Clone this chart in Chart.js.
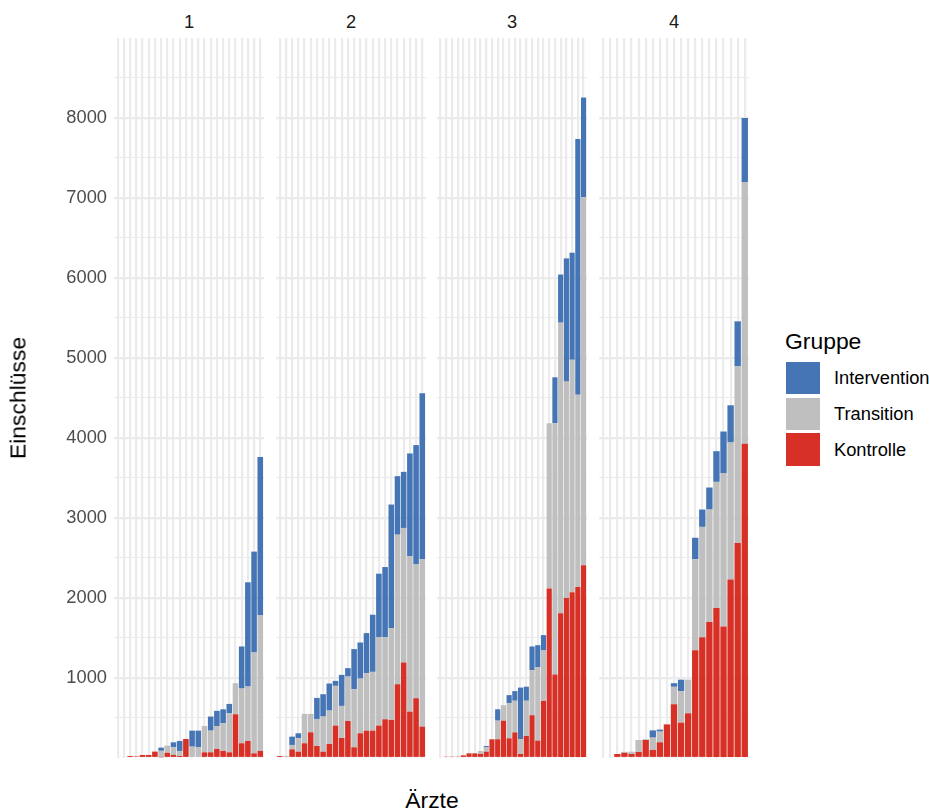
<!DOCTYPE html>
<html>
<head>
<meta charset="utf-8">
<script src="https://cdn.jsdelivr.net/npm/chart.js@4.4.1/dist/chart.umd.min.js"></script>
<style>
html,body{margin:0;padding:0;background:#fff;width:929px;height:811px;overflow:hidden;font-family:"Liberation Sans",Arial,sans-serif;}
canvas{position:absolute;}
.strip{position:absolute;top:10px;width:150px;text-align:center;font-size:18.3px;line-height:24px;color:#1a1a1a;}
.ytitle{position:absolute;left:18px;top:398px;transform:translate(-50%,-50%) rotate(-90deg);font-size:22.9px;color:#000;white-space:nowrap;}
.xtitle{position:absolute;left:432px;top:800px;transform:translate(-50%,-50%);font-size:22.9px;color:#000;white-space:nowrap;}
.legtitle{position:absolute;left:785px;top:327px;font-size:22.9px;line-height:28px;color:#000;}
.key{position:absolute;left:786px;width:33.5px;height:32.5px;}
.keylab{position:absolute;left:834px;font-size:18.3px;line-height:22px;color:#000;white-space:nowrap;}
</style>
</head>
<body>
<script>
// ---------- data ----------
const panelNames = ['1', '2', '3', '4'];
const groupNames = ['Intervention', 'Transition', 'Kontrolle'];
const yTickLabels = [1000, 2000, 3000, 4000, 5000, 6000, 7000, 8000];

const p1Kontrolle    = [0, 0, 25, 20, 38, 38, 80, 10, 65, 38, 25, 238, 0, 0, 71, 71, 113, 88, 71, 547, 184, 213, 58, 88];
const p1Transition   = [0, 15, 0, 0, 0, 0, 0, 80, 90, 96, 63, 0, 142, 134, 330, 271, 287, 346, 488, 388, 684, 680, 1261, 1698];
const p1Intervention = [0, 0, 0, 0, 0, 0, 0, 40, 0, 62, 125, 0, 200, 208, 0, 176, 189, 175, 117, 0, 526, 1303, 1261, 1975];

const p2Kontrolle    = [25, 0, 108, 79, 184, 321, 150, 79, 175, 405, 250, 463, 134, 309, 342, 342, 405, 484, 476, 922, 1194, 580, 747, 392];
const p2Transition   = [0, 25, 55, 167, 367, 230, 338, 439, 418, 497, 401, 555, 726, 684, 718, 735, 1106, 1027, 1148, 1870, 1682, 1941, 1678, 2096];
const p2Intervention = [0, 0, 104, 63, 0, 0, 263, 279, 338, 62, 388, 105, 501, 451, 501, 714, 793, 876, 1544, 731, 701, 1286, 1486, 2070];

const p3Kontrolle    = [0, 17, 17, 17, 33, 58, 58, 50, 79, 234, 234, 467, 246, 320, 50, 275, 535, 217, 714, 2120, 1044, 1809, 2000, 2071, 2136, 2410];
const p3Transition   = [0, 0, 0, 0, 0, 0, 0, 38, 55, 0, 233, 193, 440, 396, 184, 441, 564, 920, 631, 2065, 3141, 3633, 2705, 2907, 2404, 4600];
const p3Intervention = [0, 0, 0, 0, 0, 0, 0, 0, 16, 0, 142, 0, 100, 120, 646, 175, 295, 273, 191, 0, 574, 601, 1540, 1338, 3197, 1246];

const p4Kontrolle    = [0, 0, 50, 65, 50, 75, 225, 100, 196, 420, 672, 442, 559, 1347, 1509, 1700, 1875, 1645, 2230, 2687, 3928];
const p4Transition   = [0, 0, 0, 12, 29, 150, 10, 155, 134, 0, 218, 394, 420, 1138, 1380, 1406, 1577, 1916, 1714, 2208, 3268];
const p4Intervention = [0, 0, 0, 0, 0, 0, 0, 90, 25, 0, 45, 143, 0, 268, 217, 275, 383, 520, 465, 563, 804];

// ---------- layout / style ----------
const COLORS = { Intervention: '#4575b4', Transition: '#bfbfbf', Kontrolle: '#d73027' };
const PANEL_LEFT = [114, 276, 437, 599];
const PANEL_W = 150, TOP = 38, H = 720, YAXIS_W = 114;
const FONT = 'Liberation Sans';

const panelData = [
  { Kontrolle: p1Kontrolle, Transition: p1Transition, Intervention: p1Intervention },
  { Kontrolle: p2Kontrolle, Transition: p2Transition, Intervention: p2Intervention },
  { Kontrolle: p3Kontrolle, Transition: p3Transition, Intervention: p3Intervention },
  { Kontrolle: p4Kontrolle, Transition: p4Transition, Intervention: p4Intervention }
];

function toPoints(arr) {
  return arr.map((v, i) => ({ x: i + 1, y: v === 0 ? null : v }));
}

panelNames.forEach((name, p) => {
  const first = p === 0;
  const yw = first ? YAXIS_W : 0;
  const cv = document.createElement('canvas');
  cv.width = PANEL_W + yw;
  cv.height = H;
  cv.style.left = (PANEL_LEFT[p] - yw) + 'px';
  cv.style.top = TOP + 'px';
  document.body.appendChild(cv);

  const d = panelData[p];
  const n = d.Kontrolle.length;
  const order = ['Kontrolle', 'Transition', 'Intervention'];

  new Chart(cv, {
    type: 'bar',
    data: {
      datasets: order.map(g => ({
        label: g,
        data: toPoints(d[g]),
        backgroundColor: COLORS[g],
        borderWidth: 0,
        categoryPercentage: 1,
        barPercentage: 0.9
      }))
    },
    options: {
      responsive: false,
      animation: false,
      devicePixelRatio: 1,
      layout: { padding: 0 },
      plugins: { legend: { display: false }, tooltip: { enabled: false }, title: { display: false } },
      scales: {
        x: {
          type: 'linear', min: 0.4, max: n + 0.6, stacked: true, offset: false,
          grid: { color: '#ebebeb', lineWidth: 2.2, drawTicks: false, offset: false },
          border: { display: false },
          ticks: { display: false, stepSize: 1, includeBounds: false, autoSkip: false },
          afterFit: s => { s.height = 0; s.paddingLeft = 0; s.paddingRight = 0; }
        },
        y: {
          type: 'linear', min: 0, max: 9000, stacked: true,
          grid: {
            color: c => (c.tick && (c.tick.value === 0 || c.tick.value === 9000)) ? 'rgba(0,0,0,0)' : '#ebebeb',
            lineWidth: c => (c.tick && c.tick.value % 1000 === 0) ? 2.2 : 1.1,
            drawTicks: false
          },
          border: { display: false },
          ticks: {
            display: first, stepSize: 500, autoSkip: false, padding: 7,
            color: '#4d4d4d', font: { family: FONT, size: 18.3 },
            callback: v => yTickLabels.includes(v) ? String(v) : ''
          },
          afterFit: s => { s.width = yw; s.paddingTop = 0; s.paddingBottom = 0; }
        }
      }
    }
  });

  const lab = document.createElement('div');
  lab.className = 'strip';
  lab.style.left = PANEL_LEFT[p] + 'px';
  lab.textContent = name;
  document.body.appendChild(lab);
});

// axis titles
const yt = document.createElement('div'); yt.className = 'ytitle'; yt.textContent = 'Einschlüsse'; document.body.appendChild(yt);
const xt = document.createElement('div'); xt.className = 'xtitle'; xt.textContent = 'Ärzte'; document.body.appendChild(xt);

// legend
const lt = document.createElement('div'); lt.className = 'legtitle'; lt.textContent = 'Gruppe'; document.body.appendChild(lt);
const keyTops = [361.7, 397.5, 433.3];
groupNames.forEach((g, i) => {
  const k = document.createElement('div'); k.className = 'key';
  k.style.top = keyTops[i] + 'px'; k.style.background = COLORS[g];
  document.body.appendChild(k);
  const t = document.createElement('div'); t.className = 'keylab';
  t.style.top = (keyTops[i] + 16.25 - 11) + 'px'; t.textContent = g;
  document.body.appendChild(t);
});
</script>
</body>
</html>
